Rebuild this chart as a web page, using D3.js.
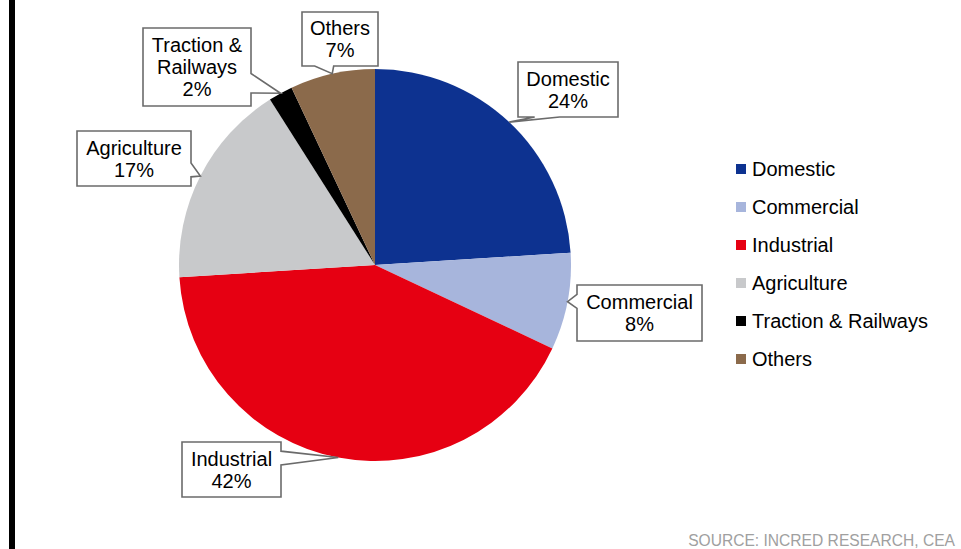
<!DOCTYPE html>
<html>
<head>
<meta charset="utf-8">
<script src="https://cdn.jsdelivr.net/npm/d3@7"></script>
<style>
  html, body { margin: 0; padding: 0; background: #fff; }
  svg { display: block; font-family: "Liberation Sans", Arial, sans-serif; }
</style>
</head>
<body>
<svg id="chart" width="961" height="549"></svg>
<script>
// Electricity consumption share by category (%)
const categories = ["Domestic", "Commercial", "Industrial", "Agriculture", "Traction & Railways", "Others"];
const shares = [24, 8, 42, 17, 2, 7];
const calloutLines = [["Domestic"], ["Commercial"], ["Industrial"], ["Agriculture"], ["Traction &", "Railways"], ["Others"]];
const colors = ["#0d3290", "#a7b5dc", "#e60012", "#c8c9cb", "#000000", "#8b6a4b"];
const sourceText = "SOURCE: INCRED RESEARCH, CEA";

// Callout box rectangles [x, y, width, height]
const boxes = [
  [518, 62, 100, 55],
  [577, 285, 125, 56],
  [182, 442, 99, 55],
  [77, 131, 114, 55],
  [143, 28, 108, 78],
  [302, 12, 76, 54]
];

const svg = d3.select("#chart");
const cx = 375, cy = 265, r = 196;

// Left rule
svg.append("rect").attr("x", 9).attr("y", 0).attr("width", 6).attr("height", 549).attr("fill", "#000");

const data = categories.map((c, i) => ({ name: c, value: shares[i], color: colors[i], lines: calloutLines[i], box: boxes[i] }));

const pie = d3.pie().sort(null).value(d => d.value);
const arcs = pie(data);
const arc = d3.arc().innerRadius(0).outerRadius(r);
const edge = d3.arc().innerRadius(r).outerRadius(r);

const g = svg.append("g").attr("transform", `translate(${cx},${cy})`);
g.selectAll("path.slice")
  .data(arcs)
  .join("path")
  .attr("class", "slice")
  .attr("d", arc)
  .attr("fill", d => d.data.color);

// Wedge-shaped rectangular callout pointing at (tx, ty)
function calloutPath(x, y, w, h, tx, ty) {
  const hc = x + w / 2, vc = y + h / 2;
  const dx = tx - hc, dy = ty - vc;
  const dz = Math.abs(dy) - Math.abs(dx * h / w);
  const x1 = x + w * (dx > 0 ? 7 : 2) / 12, x2 = x + w * (dx > 0 ? 10 : 5) / 12;
  const y1 = y + h * (dy > 0 ? 7 : 2) / 12, y2 = y + h * (dy > 0 ? 10 : 5) / 12;
  const l = x, t = y, rr = x + w, b = y + h;
  const p = d3.path();
  p.moveTo(l, t);
  if (dz > 0 && dy < 0) { p.lineTo(x1, t); p.lineTo(tx, ty); p.lineTo(x2, t); }
  p.lineTo(rr, t);
  if (dz <= 0 && dx > 0) { p.lineTo(rr, y1); p.lineTo(tx, ty); p.lineTo(rr, y2); }
  p.lineTo(rr, b);
  if (dz > 0 && dy > 0) { p.lineTo(x2, b); p.lineTo(tx, ty); p.lineTo(x1, b); }
  p.lineTo(l, b);
  if (dz <= 0 && dx < 0) { p.lineTo(l, y2); p.lineTo(tx, ty); p.lineTo(l, y1); }
  p.closePath();
  return p.toString();
}

const labels = svg.append("g");
arcs.forEach(a => {
  const [bx, by, bw, bh] = a.data.box;
  const [ex, ey] = edge.centroid(a);
  const tx = cx + ex, ty = cy + ey;
  labels.append("path")
    .attr("d", calloutPath(bx, by, bw, bh, tx, ty))
    .attr("fill", "#fff")
    .attr("stroke", "#6b6b6b")
    .attr("stroke-width", 1.6)
    .attr("stroke-linejoin", "miter");
  const lines = a.data.lines.concat([a.data.value + "%"]);
  const lh = 22;
  const firstBase = by + bh / 2 - (lines.length - 1) * lh / 2 + 7;
  const t = labels.append("text")
    .attr("text-anchor", "middle")
    .attr("font-size", 20)
    .attr("fill", "#000");
  lines.forEach((ln, i) => {
    t.append("tspan").attr("x", bx + bw / 2).attr("y", firstBase + i * lh).text(ln);
  });
});

// Legend
const legend = svg.append("g").attr("transform", "translate(736,176)");
const rows = legend.selectAll("g").data(data).join("g")
  .attr("transform", (d, i) => `translate(0,${i * 38})`);
rows.append("rect").attr("x", 0).attr("y", -12).attr("width", 10).attr("height", 10).attr("fill", d => d.color);
rows.append("text").attr("x", 16).attr("y", 0).attr("font-size", 20).attr("fill", "#000").text(d => d.name);

// Source note
svg.append("text")
  .attr("x", 955).attr("y", 546)
  .attr("text-anchor", "end")
  .attr("font-size", 15.6)
  .attr("fill", "#a0a0a0")
  .text(sourceText);
</script>
</body>
</html>
